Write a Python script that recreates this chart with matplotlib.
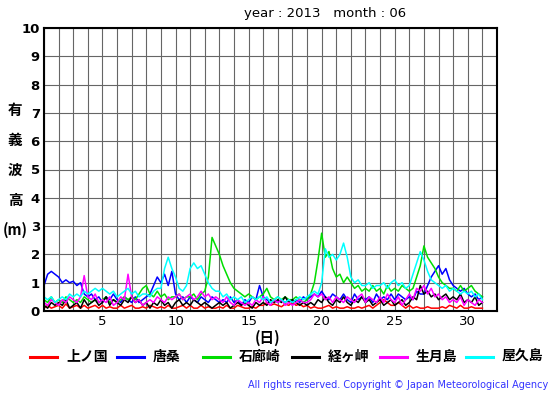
import numpy as np
import matplotlib
matplotlib.use("Agg")
import matplotlib.pyplot as plt
from matplotlib.lines import Line2D

# 6-hourly significant wave height (m), June 2013, day 1.00 .. day 31.00
kaminokuni = [
    0.1, 0.2, 0.1, 0.15, 0.2, 0.1, 0.25, 0.1, 0.15, 0.2, 0.1, 0.2,
    0.1, 0.15, 0.2, 0.1, 0.2, 0.1, 0.15, 0.1, 0.1, 0.2, 0.1, 0.15,
    0.2, 0.1, 0.1, 0.15, 0.1, 0.2, 0.15, 0.1, 0.15, 0.1, 0.2, 0.1,
    0.1, 0.15, 0.2, 0.1, 0.2, 0.1, 0.1, 0.2, 0.1, 0.15, 0.1, 0.1,
    0.15, 0.1, 0.2, 0.1, 0.1, 0.2, 0.15, 0.1, 0.1, 0.15, 0.1, 0.2,
    0.2, 0.3, 0.2, 0.25, 0.2, 0.15, 0.25, 0.2, 0.3, 0.2, 0.25, 0.15,
    0.2, 0.1, 0.15, 0.1, 0.1, 0.15, 0.2, 0.1, 0.15, 0.1, 0.1, 0.15,
    0.1, 0.1, 0.15, 0.1, 0.15, 0.2, 0.1, 0.2, 0.3, 0.4, 0.3, 0.2,
    0.2, 0.3, 0.2, 0.1, 0.2, 0.1, 0.15, 0.1, 0.1, 0.15, 0.1, 0.1,
    0.1, 0.15, 0.1, 0.2, 0.15, 0.1, 0.2, 0.1, 0.1, 0.15, 0.1, 0.1,
    0.1]
karakuwa = [
    0.9, 1.3, 1.4, 1.3, 1.2, 1.0, 1.1, 1.0, 1.05, 0.9, 1.0, 0.6,
    0.5, 0.6, 0.4, 0.5, 0.3, 0.5, 0.4, 0.6, 0.4, 0.3, 0.5, 0.4,
    0.3, 0.5, 0.3, 0.4, 0.5, 0.6, 0.9, 1.2, 1.0, 1.3, 0.9, 1.4,
    0.6, 0.4, 0.5, 0.3, 0.5, 0.4, 0.3, 0.5, 0.4, 0.3, 0.5, 0.4,
    0.3, 0.4, 0.3, 0.5, 0.3, 0.4, 0.2, 0.4, 0.3, 0.5, 0.4, 0.9,
    0.5, 0.4, 0.3, 0.4, 0.3, 0.4, 0.3, 0.4, 0.3, 0.4, 0.3, 0.5,
    0.4, 0.5, 0.6, 0.5, 0.7, 0.5, 0.4, 0.6, 0.5, 0.4, 0.6, 0.4,
    0.3, 0.6, 0.4, 0.5, 0.4, 0.5, 0.3, 0.6, 0.4, 0.5, 0.4, 0.6,
    0.4, 0.6, 0.5, 0.4, 0.5, 0.4, 0.7, 0.6, 0.6, 0.9, 1.2, 1.4,
    1.6, 1.3, 1.5, 1.1, 0.9, 0.8, 0.7, 0.8, 0.6, 0.5, 0.6, 0.4,
    0.5]
irozaki = [
    0.4, 0.3, 0.5, 0.3, 0.4, 0.3, 0.5, 0.4, 0.3, 0.4, 0.3, 0.5,
    0.4, 0.3, 0.4, 0.3, 0.4, 0.5, 0.3, 0.4, 0.3, 0.4, 0.5, 0.4,
    0.5, 0.4, 0.6, 0.8, 0.9, 0.6, 0.5, 0.7, 0.5, 0.6, 0.4, 0.5,
    0.5, 0.6, 0.4, 0.5, 0.5, 0.6, 0.4, 0.6, 0.7, 1.2, 2.6, 2.3,
    2.0, 1.6, 1.3, 1.0, 0.8, 0.7, 0.6, 0.5, 0.6, 0.5, 0.4, 0.5,
    0.6, 0.8, 0.5, 0.4, 0.5, 0.4, 0.5, 0.4, 0.4, 0.5, 0.4, 0.3,
    0.4, 0.6, 1.0, 1.8, 2.75, 1.9, 2.1, 1.5, 1.2, 1.3, 1.0, 1.2,
    1.0, 0.8, 0.9, 0.7, 0.8, 0.7, 0.9, 0.7, 0.8, 0.6, 0.9, 0.7,
    0.8, 0.7, 0.9, 0.8, 0.7, 0.8, 1.2, 1.6, 2.3, 1.9, 1.7, 1.5,
    1.2, 1.0, 0.9, 0.8, 0.8, 0.7, 0.9, 0.7, 0.8, 0.9, 0.7, 0.6,
    0.5]
kyogamisaki = [
    0.2, 0.1, 0.3, 0.2, 0.3, 0.2, 0.4, 0.1, 0.2, 0.3, 0.1, 0.4,
    0.2, 0.3, 0.4, 0.2, 0.3, 0.5, 0.2, 0.4, 0.3, 0.2, 0.4, 0.3,
    0.5, 0.3, 0.4, 0.2, 0.3, 0.1, 0.3, 0.2, 0.4, 0.2, 0.3, 0.1,
    0.3, 0.4, 0.2, 0.3, 0.2, 0.4, 0.3, 0.2, 0.3, 0.2, 0.1, 0.2,
    0.3, 0.2, 0.3, 0.1, 0.2, 0.3, 0.2, 0.3, 0.2, 0.1, 0.3, 0.2,
    0.3, 0.2, 0.4, 0.3, 0.4, 0.3, 0.5, 0.3, 0.4, 0.3, 0.2, 0.3,
    0.2, 0.3, 0.2, 0.4, 0.3, 0.5, 0.3, 0.2, 0.4, 0.3, 0.5, 0.3,
    0.2, 0.4, 0.3, 0.5, 0.3, 0.4, 0.2, 0.3, 0.4, 0.2, 0.3, 0.4,
    0.2, 0.3, 0.4, 0.2, 0.3, 0.5, 0.4, 0.9, 0.6, 0.7, 0.5, 0.6,
    0.4, 0.5, 0.6, 0.4, 0.5, 0.4, 0.6, 0.3, 0.4, 0.3, 0.5, 0.2,
    0.3]
ikitsukishima = [
    0.3, 0.2, 0.4, 0.3, 0.2, 0.4, 0.3, 0.5, 0.4, 0.3, 0.5, 1.25,
    0.5, 0.4, 0.6, 0.3, 0.4, 0.3, 0.5, 0.2, 0.3, 0.5, 0.4, 1.3,
    0.5, 0.3, 0.4, 0.2, 0.3, 0.4, 0.3, 0.5, 0.4, 0.3, 0.5, 0.4,
    0.5, 0.6, 0.4, 0.5, 0.6, 0.4, 0.5, 0.7, 0.5, 0.6, 0.4, 0.5,
    0.4, 0.3, 0.5, 0.3, 0.2, 0.4, 0.3, 0.2, 0.3, 0.2, 0.4, 0.3,
    0.5, 0.3, 0.2, 0.4, 0.3, 0.4, 0.2, 0.3, 0.2, 0.3, 0.4, 0.3,
    0.3, 0.4, 0.6, 0.5, 0.6, 0.4, 0.5, 0.3, 0.5, 0.4, 0.3, 0.5,
    0.4, 0.3, 0.5, 0.6, 0.3, 0.5, 0.4, 0.3, 0.5, 0.3, 0.6, 0.4,
    0.3, 0.5, 0.2, 0.4, 0.6, 0.4, 0.8, 0.7, 0.9, 0.6, 0.8, 0.5,
    0.6, 0.4, 0.5, 0.3, 0.4, 0.3, 0.5, 0.2, 0.4, 0.3, 0.2, 0.4,
    0.3]
yakushima = [
    0.5, 0.4, 0.5, 0.3, 0.4, 0.5, 0.4, 0.6, 0.5, 0.6, 0.5, 0.7,
    0.6, 0.7, 0.8, 0.7, 0.8, 0.7, 0.6, 0.7, 0.5, 0.6, 0.7, 0.8,
    0.6, 0.7, 0.5, 0.6, 0.6, 0.5, 0.7, 0.8, 0.8, 1.5, 1.9, 1.5,
    1.2, 0.8, 0.7, 0.9, 1.5, 1.7, 1.5, 1.6, 1.3, 1.0, 0.8, 0.7,
    0.7, 0.5, 0.6, 0.4, 0.5, 0.4, 0.5, 0.3, 0.4, 0.5, 0.4, 0.5,
    0.4, 0.5, 0.3, 0.4, 0.5, 0.4, 0.3, 0.4, 0.3, 0.4, 0.5, 0.4,
    0.5, 0.6, 0.7, 0.6, 1.0, 2.2, 1.9, 2.0, 1.8, 2.0, 2.4, 1.9,
    1.2, 1.0, 1.1, 0.9, 0.9, 1.0, 0.8, 0.9, 0.9, 1.0, 0.8, 1.0,
    1.1, 0.9, 1.0, 0.8, 0.9, 1.3, 1.7, 2.1, 1.8, 1.4, 1.1, 1.0,
    0.9, 0.8, 0.9, 0.7, 0.8, 0.7, 0.6, 0.7, 0.6, 0.7, 0.5, 0.6,
    0.4]

stations = ["上ノ国", "唐桑", "石廊崎", "経ヶ岬", "生月島", "屋久島"]
colors = ["#ff0000", "#0000ff", "#00dd00", "#000000", "#ff00ff", "#00ffff"]
series = [kaminokuni, karakuwa, irozaki, kyogamisaki, ikitsukishima, yakushima]

days = 1 + np.arange(len(kaminokuni)) * 0.25
cjk = ["Noto Sans CJK JP", "DejaVu Sans"]

fig = plt.figure(figsize=(5.55, 3.95), dpi=100)
ax = fig.add_axes([44 / 555, 84 / 395, 453 / 555, 283 / 395])

for vals, c in zip(series, colors):
    ax.plot(days, vals, color=c, lw=1.1)

ax.set_xlim(1, 32)
ax.set_ylim(0, 10)
ax.set_xticks(np.arange(1, 33), minor=True)
ax.set_xticks([5, 10, 15, 20, 25, 30])
ax.set_yticks(np.arange(0, 11))
ax.grid(True, which="both", color="#666666", lw=0.8)
ax.set_axisbelow(True)
ax.tick_params(which="both", length=0, pad=3)
for lab in ax.get_yticklabels():
    lab.set_fontweight("bold")
    lab.set_fontsize(9.5)
for lab in ax.get_xticklabels():
    lab.set_fontsize(9.5)
for sp in ax.spines.values():
    sp.set_linewidth(1.5)

fig.text(325 / 555, 1 - 14 / 395, "year : 2013   month : 06", ha="center", va="center", fontsize=9.5)

for i, ch in enumerate(["有", "義", "波", "高", "(m)"]):
    fig.text(15 / 555, 1 - (110 + 30 * i) / 395, ch, ha="center", va="center",
             family=cjk, fontsize=10.5, fontweight="bold")

fig.text(268 / 555, 1 - 338 / 395, "(日)", ha="center", va="center",
         family=cjk, fontsize=10.5, fontweight="bold")

leg_x = [30, 117, 203, 292, 380, 466]
for x0, name, c in zip(leg_x, stations, colors):
    fig.add_artist(Line2D([x0 / 555, (x0 + 27) / 555], [1 - 357 / 395] * 2, color=c, lw=2.2))
    fig.text((x0 + 36) / 555, 1 - 357 / 395, name, ha="left", va="center",
             family=cjk, fontsize=10, fontweight="bold")

fig.text(548 / 555, 1 - 385 / 395,
         "All rights reserved. Copyright \u00a9 Japan Meteorological Agency",
         ha="right", va="center", fontsize=7, color="#3333ff")

fig.savefig("out.png", dpi=100)
